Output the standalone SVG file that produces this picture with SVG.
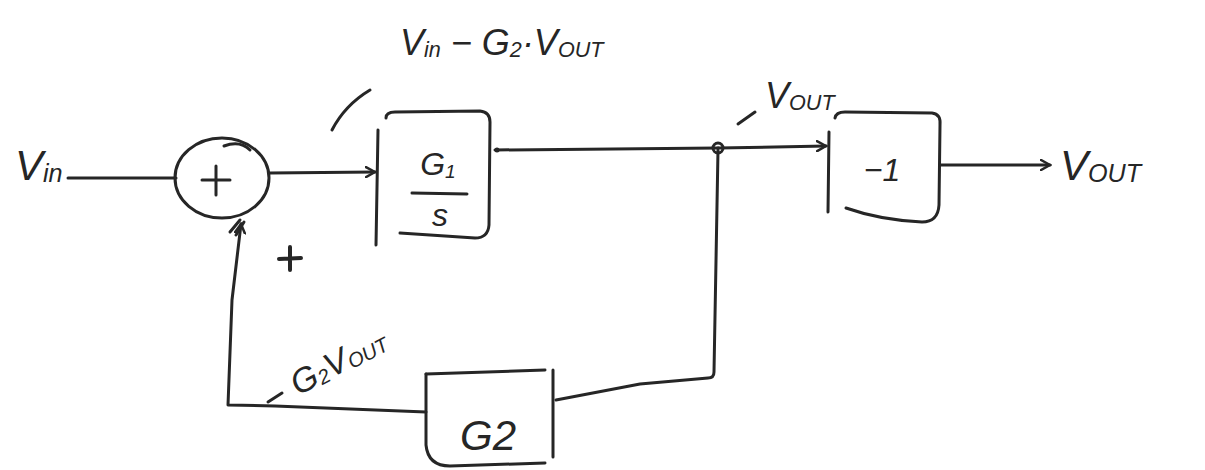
<svg xmlns="http://www.w3.org/2000/svg" width="1205" height="470" viewBox="0 0 1205 470">
  <defs>
    <style>
      .ln { fill: none; stroke: #262626; stroke-width: 3; stroke-linecap: round; stroke-linejoin: round; }
      .tx { font-family: "Liberation Sans", "DejaVu Sans", sans-serif; font-style: italic; fill: #262626; }
      .big { font-size: 42px; }
      .lbl { font-size: 36px; }
      .mid { font-size: 32px; }
      .sm { font-size: 34px; }
      .sub { font-size: 60%; }
    </style>
    <marker id="arrow" viewBox="0 0 12 12" refX="10" refY="6" markerWidth="12" markerHeight="12" markerUnits="userSpaceOnUse" orient="auto">
      <path d="M1,1 L10,6 L1,11" fill="none" stroke="#262626" stroke-width="2.5" stroke-linecap="round"/>
    </marker>
  </defs>
  <rect width="1205" height="470" fill="#ffffff"/>

  <!-- connectors -->
  <g id="connectors">
    <path class="ln" d="M68,178 L176,178"/>
    <path class="ln" d="M270,173 L375,172" marker-end="url(#arrow)"/>
    <path class="ln" d="M495,150 L718,148"/>
    <path class="ln" d="M718,148 L826,146" marker-end="url(#arrow)"/>
    <path class="ln" d="M940,165 L1050,165" marker-end="url(#arrow)"/>
    <path class="ln" d="M718,150 L714,372 Q714,378 708,378 L640,384 L556,400"/>
    <path class="ln" d="M426,412 L275,406 L228,405 L232,300 L241,224" marker-end="url(#arrow)"/>
    <path class="ln" d="M236,235 L244,222 M230,232 L240,220"/>
    <circle cx="718" cy="148" r="5" fill="none" stroke="#262626" stroke-width="3"/>
    <circle cx="497" cy="150" r="2.5" fill="#262626"/>
  </g>

  <!-- summing junction -->
  <g id="sum">
    <ellipse class="ln" cx="222" cy="178" rx="47" ry="40"/>
    <path class="ln" d="M224,146 Q240,140 250,150"/>
    <path class="ln" d="M202,180 L230,180 M216,166 L216,195"/>
  </g>

  <!-- integrator block G1/s -->
  <g id="integrator">
    <path class="ln" d="M378,130 L376,245"/>
    <path class="ln" d="M386,118 Q386,112 395,112 L480,111 Q490,112 490,122 L489,225 Q488,238 475,238 L400,233"/>
    <text class="tx mid" x="438" y="175" text-anchor="middle">G<tspan class="sub" dy="3">1</tspan></text>
    <path class="ln" d="M412,193 L467,194"/>
    <text class="tx mid" x="440" y="226" text-anchor="middle">s</text>
  </g>

  <!-- inverter block -1 -->
  <g id="inverter">
    <path class="ln" d="M829,132 L828,212"/>
    <path class="ln" d="M835,118 Q836,112 845,112 L932,113 Q941,114 940,125 L939,205 Q938,222 922,222 Q880,220 846,208"/>
    <text class="tx mid" x="882" y="181" text-anchor="middle">−1</text>
  </g>

  <!-- feedback gain G2 -->
  <g id="feedback">
    <path class="ln" d="M426,374 L545,370"/>
    <path class="ln" d="M553,370 L553,457"/>
    <path class="ln" d="M426,374 L426,445 Q428,466 450,466 L545,463"/>
    <text class="tx big" x="488" y="450" text-anchor="middle">G2</text>
  </g>

  <!-- signal labels -->
  <g id="labels">
    <text class="tx big" x="15" y="180">V<tspan class="sub" dy="2">in</tspan></text>
    <path class="ln" d="M370,90 Q345,105 332,130"/>
    <text class="tx lbl" x="400" y="55">V<tspan class="sub" dy="2">in</tspan><tspan dy="-2"> − G</tspan><tspan class="sub" dy="2">2</tspan><tspan dy="-2">·V</tspan><tspan class="sub" dy="2">OUT</tspan></text>
    <path class="ln" d="M738,124 L755,112"/>
    <text class="tx lbl" x="765" y="108">V<tspan class="sub" dy="2">OUT</tspan></text>
    <text class="tx big" x="1060" y="180">V<tspan class="sub" dy="2">OUT</tspan></text>
    <path d="M279,259 L301,258 M290,247 L290,270" fill="none" stroke="#262626" stroke-width="4" stroke-linecap="round"/>
    <path class="ln" d="M268,402 L282,393"/>
    <text class="tx sm" x="298" y="396" transform="rotate(-28 298 396)">G<tspan class="sub" dy="2">2</tspan><tspan dy="-2">V</tspan><tspan class="sub" dy="2">OUT</tspan></text>
  </g>
</svg>
